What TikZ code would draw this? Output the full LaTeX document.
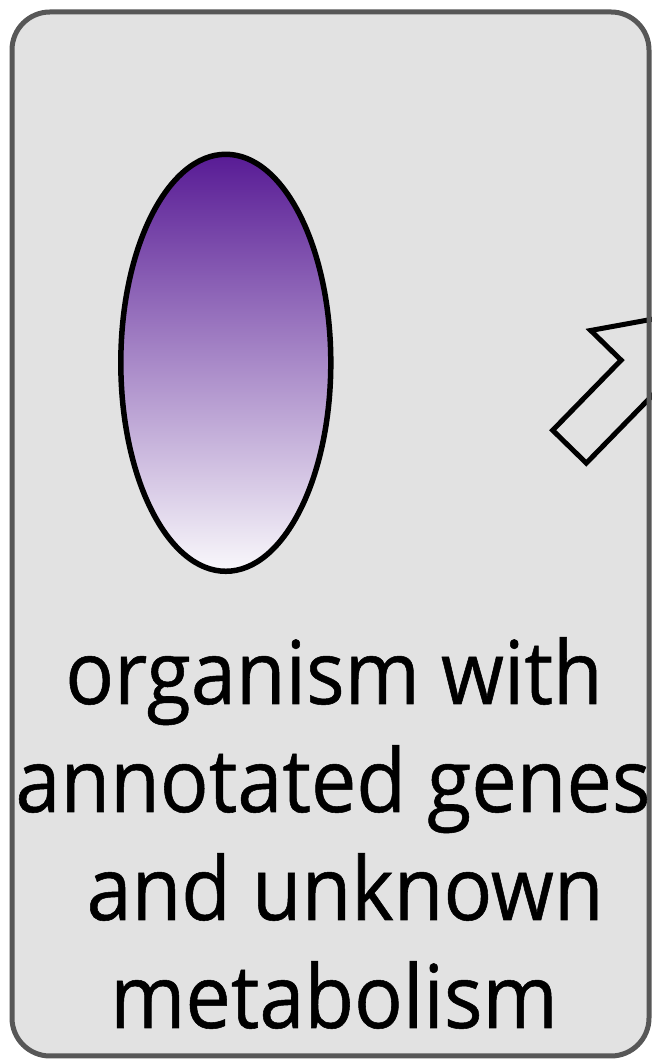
\documentclass[tikz,border=0pt]{standalone}
\usepackage{fontspec}
\newfontfamily\lblfont{Open Sans}[FakeStretch=0.92, FakeBold=0.6]
\usetikzlibrary{shapes.geometric}
\definecolor{boxfill}{HTML}{E2E2E2}
\definecolor{boxline}{HTML}{575757}
\definecolor{violettop}{HTML}{581B95}
\definecolor{violetbot}{HTML}{F9F8FB}
\tikzset{
  panelfill/.style={fill=boxfill, rounded corners=38},
  panelline/.style={draw=boxline, line width=5, rounded corners=38},
  cell/.style={ellipse, draw=black, line width=5.5, inner sep=0,
    minimum width=210, minimum height=417,
    top color=violettop, bottom color=violetbot},
  hollowarrow/.style={draw=black, line width=5, line join=miter},
  caption/.style={anchor=base, inner sep=0, text=black,
    font=\lblfont\fontsize{88}{108}\selectfont}
}
\begin{document}
\begin{tikzpicture}[x=1pt,y=1pt]
\useasboundingbox (0,0) rectangle (652,1060);
\clip (0,0) rectangle (652,1060);
\fill[white] (0,0) rectangle (652,1060);
\path[panelfill] (12,4) rectangle (649,1048);
\begin{scope}[shift={(569.5,613.3)}, rotate=45.7]
  \draw[hollowarrow] (0,23.5) -- (98,23.5) -- (98,66) -- (191,0)
     -- (98,-66) -- (98,-23.5) -- (0,-23.5) -- cycle;
\end{scope}
\path[panelline] (12,4) rectangle (649,1048);
\node[cell] (organism) at (225.8,697.2) {};
\node[caption] (l1) at (334,356) {organism with};
\node[caption] (l2) at (333,248) {annotated genes};
\node[caption] (l3) at (345,140) {and unknown};
\node[caption] (l4) at (334,32) {metabolism};
\end{tikzpicture}
\end{document}
